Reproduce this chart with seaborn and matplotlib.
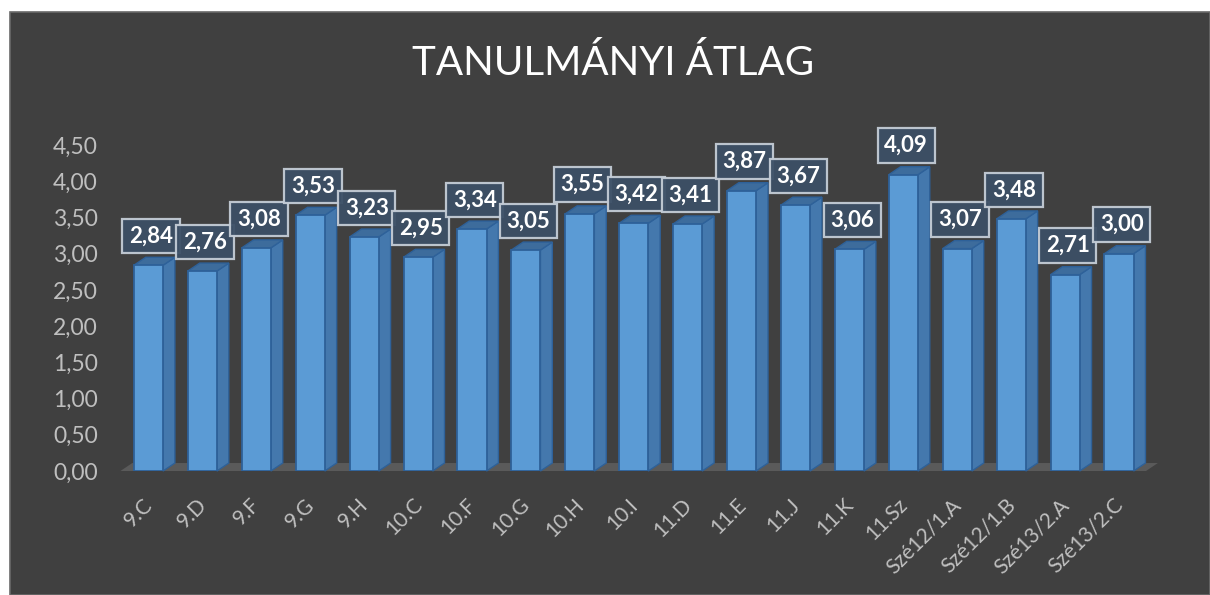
import matplotlib
matplotlib.use("Agg")
import matplotlib.pyplot as plt
import matplotlib.transforms as mtransforms
from matplotlib.patches import Rectangle, Polygon
import seaborn as sns
import pandas as pd

categories = ["9.C", "9.D", "9.F", "9.G", "9.H", "10.C", "10.F", "10.G", "10.H", "10.I",
              "11.D", "11.E", "11.J", "11.K", "11.Sz", "Szé12/1.A", "Szé12/1.B",
              "Szé13/2.A", "Szé13/2.C"]
values = [2.84, 2.76, 3.08, 3.53, 3.23, 2.95, 3.34, 3.05, 3.55, 3.42,
          3.41, 3.87, 3.67, 3.06, 4.09, 3.07, 3.48, 2.71, 3.00]
value_labels = [f"{v:.2f}".replace(".", ",") for v in values]
yticks = [0, 0.5, 1.0, 1.5, 2.0, 2.5, 3.0, 3.5, 4.0, 4.5]
ytick_labels = [f"{t:.2f}".replace(".", ",") for t in yticks]
title = "TANULMÁNYI ÁTLAG"

sns.set_theme(style="white")
plt.rcParams['font.family'] = ['Lato', 'DejaVu Sans']

W, H = 1210, 595
fig = plt.figure(figsize=(W / 100, H / 100), dpi=100, facecolor="white")
BG = "#404040"
fig.patches.append(Rectangle((10 / W, 0), 1 - 10 / W, 1 - 12 / H, transform=fig.transFigure,
                             facecolor=BG, edgecolor="#6a6a6a", linewidth=1.2, zorder=-5))

ax = fig.add_axes([121.5 / W, 1 - 471 / H, (1146 - 121.5) / W, (471 - 145) / H])
ax.set_zorder(2)
ax.set_facecolor("none")

df = pd.DataFrame({"cat": categories, "val": values})
sns.barplot(data=df, x="cat", y="val", color="#5B9BD5", saturation=1, width=0.54,
            edgecolor="#2E6199", linewidth=1.3, ax=ax, zorder=3)

ax.set_ylim(0, 4.5)
ax.set_xlim(-0.5, len(categories) - 0.5)

# 3D depth in data units
dx, dy = 0.22, 0.11

# floor
x0, x1 = ax.get_xlim()
floor = Polygon([(x0 - 0.02, 0), (x1, 0), (x1 + dx, dy), (x0 + dx - 0.02, dy)],
                closed=True, facecolor="#5a5a5a", edgecolor="none", zorder=1, clip_on=False)
ax.add_patch(floor)

bars = [p for p in ax.patches if isinstance(p, Rectangle)]
for p in bars:
    bx, bw, bh = p.get_x(), p.get_width(), p.get_height()
    side = Polygon([(bx + bw, 0), (bx + bw + dx, dy), (bx + bw + dx, bh + dy), (bx + bw, bh)],
                   closed=True, facecolor="#4478AD", edgecolor="#2E6199", linewidth=1.0,
                   zorder=2.5, clip_on=False)
    top = Polygon([(bx, bh), (bx + bw, bh), (bx + bw + dx, bh + dy), (bx + dx, bh + dy)],
                  closed=True, facecolor="#3D6C9C", edgecolor="#2E6199", linewidth=1.0,
                  zorder=2.5, clip_on=False)
    ax.add_patch(side)
    ax.add_patch(top)

for i, (v, lab) in enumerate(zip(values, value_labels)):
    ax.annotate(lab, xy=(i + 0.05, v), xytext=(0, 21), textcoords="offset points",
                ha="center", va="center", color="white", fontsize=16, fontweight="bold",
                annotation_clip=False, zorder=10,
                bbox=dict(boxstyle="square,pad=0.3", facecolor="#3C4F66",
                          edgecolor="#C4CCD6", linewidth=1.6, alpha=0.95))

ax.set_yticks(yticks)
ax.set_yticklabels(ytick_labels, color="#BFBFBF", fontsize=16.5)
ax.set_xticks(range(len(categories)))
ax.set_xticklabels(categories, rotation=45, ha="right", rotation_mode="anchor",
                   color="#BFBFBF", fontsize=15)
ax.tick_params(axis="y", length=0, pad=17)
ax.tick_params(axis="x", length=0, pad=17)
shift = mtransforms.ScaledTranslation(-6 / 100, 0, fig.dpi_scale_trans)
for lbl in ax.get_xticklabels():
    lbl.set_transform(lbl.get_transform() + shift)
ax.set_xlabel("")
ax.set_ylabel("")
for s in ax.spines.values():
    s.set_visible(False)
ax.grid(False)

fig.text(613 / W, 1 - 63 / H, title, ha="center", va="center", color="white", fontsize=29)

fig.savefig("out.png", dpi=100, facecolor="white")
